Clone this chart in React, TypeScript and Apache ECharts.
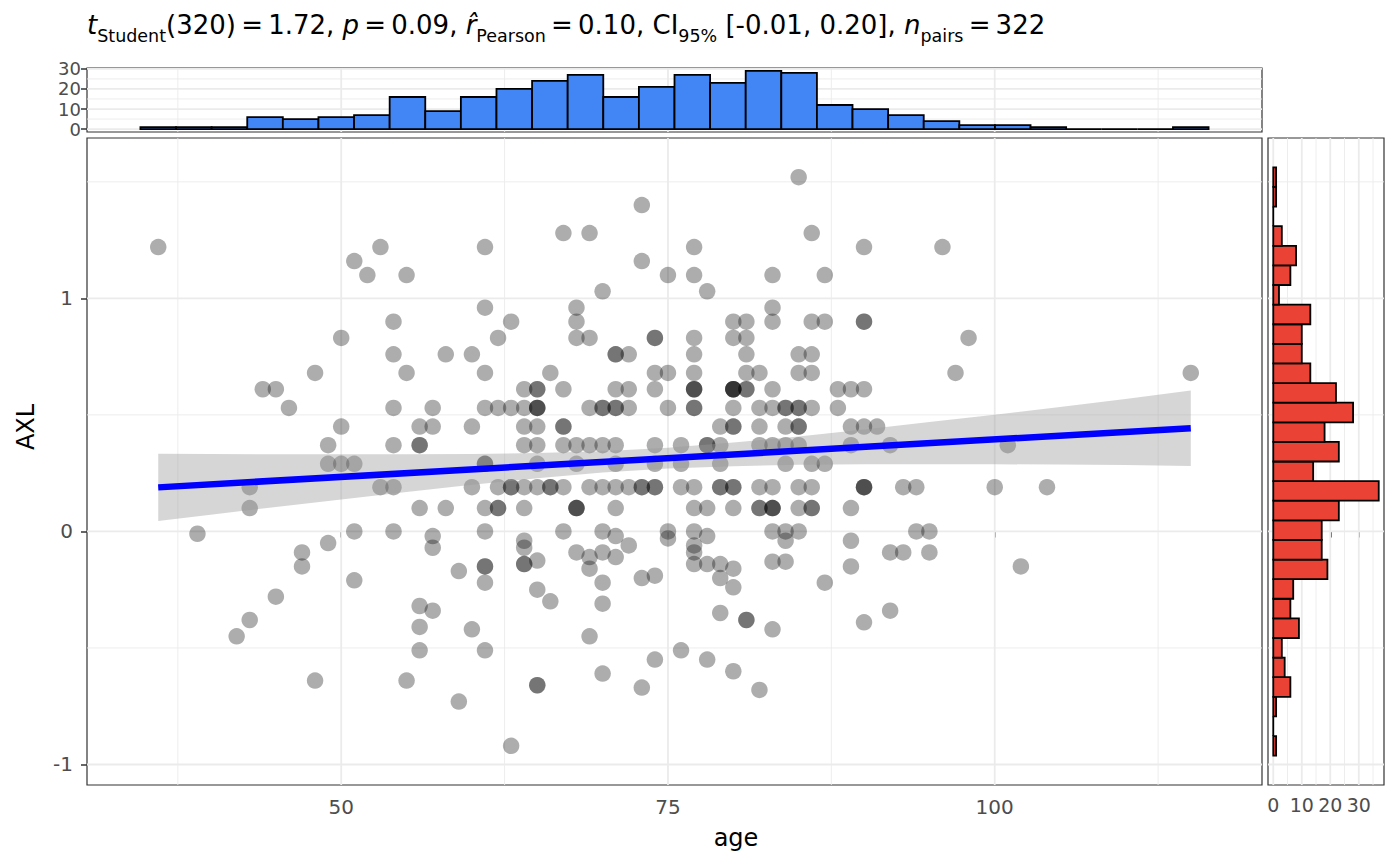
import React, { useEffect, useRef } from "react";
import * as echarts from "echarts";

const FONT = "'DejaVu Sans', 'Noto Sans', sans-serif";

// AXL value of each row of points, and the ages of the points sitting on it
const axlLevels = [
  1.52, 1.4, 1.28, 1.22, 1.16, 1.1, 1.03, 0.96, 0.9, 0.83, 0.76, 0.68, 0.61,
  0.53, 0.45, 0.37, 0.29, 0.19, 0.1, 0.0, -0.01, -0.02, -0.03, -0.04, -0.05,
  -0.06, -0.07, -0.09, -0.11, -0.125, -0.13, -0.14, -0.15, -0.16, -0.17, -0.19,
  -0.2, -0.21, -0.22, -0.24, -0.25, -0.28, -0.3, -0.31, -0.32, -0.34, -0.35,
  -0.38, -0.39, -0.41, -0.42, -0.45, -0.51, -0.55, -0.6, -0.61, -0.64, -0.66,
  -0.67, -0.68, -0.73, -0.92,
];
const agesAtLevel = [
  [85],
  [73],
  [67, 69, 86],
  [36, 53, 61, 77, 90, 96],
  [51, 73],
  [52, 55, 75, 77, 83, 87],
  [70, 78],
  [61, 68, 83],
  [54, 63, 68, 80, 81, 83, 86, 87, 90, 90],
  [50, 62, 68, 69, 74, 74, 77, 80, 81, 98],
  [54, 58, 60, 71, 71, 72, 77, 81, 85, 86],
  [48, 55, 61, 66, 74, 75, 77, 81, 82, 85, 86, 97, 115],
  [44, 45, 64, 65, 65, 67, 71, 72, 74, 77, 77, 77, 80, 80, 80, 80, 81, 81, 83, 88, 89, 90],
  [46, 54, 57, 61, 62, 63, 64, 65, 65, 65, 69, 70, 70, 71, 71, 72, 75, 77, 77, 80, 82, 83, 84, 84, 85, 85, 86, 88],
  [50, 56, 57, 60, 64, 65, 67, 67, 79, 80, 80, 82, 84, 85, 85, 89, 90, 91],
  [49, 54, 56, 56, 64, 65, 67, 68, 69, 70, 71, 74, 76, 78, 78, 79, 82, 83, 84, 85, 89, 92, 101],
  [49, 50, 51, 61, 61, 65, 68, 71, 74, 76, 79, 84, 86, 87],
  [43, 53, 54, 60, 62, 63, 63, 64, 65, 66, 66, 67, 69, 70, 71, 72, 73, 73, 74, 74, 76, 77, 79, 79, 80, 80, 82, 83, 85, 86, 90, 90, 90, 93, 94, 100, 104],
  [43, 56, 58, 61, 62, 62, 64, 68, 68, 68, 71, 77, 78, 80, 82, 82, 83, 83, 83, 85, 86, 86, 89],
  [51, 54, 61, 67, 70, 75, 77, 83, 84, 85, 94, 95],
  [39],
  [57, 71, 78],
  [75],
  [64, 84, 89],
  [49],
  [72, 77],
  [57, 64],
  [47, 68, 70, 77, 92, 93, 95],
  [69, 71],
  [65],
  [83, 84],
  [64, 64, 77, 78, 79],
  [47, 61, 61, 89, 102],
  [69, 80],
  [59],
  [74],
  [73, 79],
  [51],
  [61, 70, 87],
  [80],
  [65],
  [45],
  [66],
  [70],
  [56],
  [57, 92],
  [79],
  [43, 81, 81],
  [90],
  [56],
  [60, 83],
  [42, 69],
  [56, 61, 76],
  [74, 78],
  [80],
  [70],
  [48, 55],
  [65, 65],
  [73],
  [82],
  [59],
  [63],
];

// marginal histograms: 30 bins each, bins centred on the data min ... max
const ageCounts = [1, 1, 1, 6, 5, 6, 7, 16, 9, 16, 20, 24, 27, 16, 21, 27, 23, 29, 28, 12, 10, 7, 4, 2, 2, 1, 0, 0, 0, 1];
const ageSpan = [36, 115];
const axlCounts = [1, 0, 1, 6, 4, 3, 9, 6, 7, 19, 17, 17, 23, 37, 14, 23, 18, 28, 22, 13, 10, 10, 13, 2, 6, 8, 3, 0, 1, 1];
const axlSpan = [-0.92, 1.52];

// linear fit and its 95% band
const fitAge = [36, 115];
const fitAXL = [0.189, 0.443];
const bandAge = [36, 40, 45, 50, 55, 60, 65, 70, 75, 80, 85, 90, 95, 100, 105, 110, 115];
const bandLow = [0.045, 0.071, 0.105, 0.137, 0.169, 0.2, 0.228, 0.253, 0.27, 0.28, 0.286, 0.288, 0.288, 0.288, 0.287, 0.285, 0.281];
const bandHigh = [0.333, 0.332, 0.331, 0.331, 0.331, 0.332, 0.336, 0.344, 0.359, 0.381, 0.407, 0.437, 0.469, 0.501, 0.534, 0.568, 0.605];

// ticks and grid lines
const ageTicks = [50, 75, 100];
const ageMinor = [37.5, 62.5, 87.5, 112.5];
const axlTicks = [-1, 0, 1];
const axlMinor = [-0.5, 0.5, 1.5];
const countTicks = [0, 10, 20, 30];
const topMinor = [5, 15, 25];
const sideMinor = [5, 15, 25, 35];

const X_MIN = 30.55;
const X_MAX = 120.45;
const Y_MIN = -1.088;
const Y_MAX = 1.688;

const MAJOR_W = 1.8;
const MINOR_W = 0.9;

const bins = (counts: number[], span: number[]) => {
  const w = (span[1] - span[0]) / (counts.length - 1);
  return counts.map((c, i) => [span[0] + (i - 0.5) * w, span[0] + (i + 0.5) * w, c]);
};

const gridLines = (
  xi: number,
  vert: number[][],
  horiz: number[][],
  xRef: number,
  yRef: number
) => ({
  type: "custom",
  xAxisIndex: xi,
  yAxisIndex: xi,
  z: 1,
  silent: true,
  data: [...vert.map(([v, w]) => [0, v, w]), ...horiz.map(([v, w]) => [1, v, w])],
  renderItem: (params: any, api: any) => {
    const cs = params.coordSys;
    const o = api.value(0);
    const v = api.value(1);
    const w = api.value(2);
    const style = { stroke: "#EBEBEB", lineWidth: w };
    if (o === 0) {
      const px = api.coord([v, yRef])[0];
      return { type: "line", shape: { x1: px, y1: cs.y, x2: px, y2: cs.y + cs.height }, style };
    }
    const py = api.coord([xRef, v])[1];
    return { type: "line", shape: { x1: cs.x, y1: py, x2: cs.x + cs.width, y2: py }, style };
  },
});

const histSeries = (idx: number, data: number[][], horizontal: boolean, color: string) => ({
  type: "custom",
  xAxisIndex: idx,
  yAxisIndex: idx,
  z: 3,
  silent: true,
  data,
  renderItem: (params: any, api: any) => {
    const lo = api.value(0);
    const hi = api.value(1);
    const n = api.value(2);
    const p0 = horizontal ? api.coord([0, lo]) : api.coord([lo, 0]);
    const p1 = horizontal ? api.coord([n, hi]) : api.coord([hi, n]);
    return {
      type: "rect",
      shape: {
        x: Math.min(p0[0], p1[0]),
        y: Math.min(p0[1], p1[1]),
        width: Math.abs(p1[0] - p0[0]),
        height: Math.abs(p1[1] - p0[1]),
      },
      style: { fill: color, stroke: "#000", lineWidth: 1.8 },
    };
  },
});

const tickStyle = (values: number[], size: number, margin: number) => ({
  axisLine: { show: false },
  splitLine: { show: false },
  axisTick: { show: true, length: 6, lineStyle: { color: "#333333", width: 1.5 }, customValues: values },
  axisLabel: { customValues: values, fontSize: size, color: "#4D4D4D", fontFamily: FONT, margin },
});

const App: React.FC = () => {
  const chartRef = useRef<HTMLDivElement>(null);

  useEffect(() => {
    if (!chartRef.current) return;
    const chart = echarts.init(chartRef.current, undefined, { renderer: "svg" });

    const points = axlLevels.flatMap((lv, i) => agesAtLevel[i].map((a) => [a, lv]));
    const vMain = [...ageTicks.map((v) => [v, MAJOR_W]), ...ageMinor.map((v) => [v, MINOR_W])];
    const hMain = [...axlTicks.map((v) => [v, MAJOR_W]), ...axlMinor.map((v) => [v, MINOR_W])];

    const option = {
      animation: false,
      title: {
        left: 87,
        top: 12,
        padding: 0,
        text:
          "{i|t}{s|Student}(320)\u2009=\u20091.72, {i|p}\u2009=\u20090.09, {i|r\u0302}{s|Pearson}\u2009=\u20090.10, CI{s|95%} [-0.01, 0.20], {i|n}{s|pairs}\u2009=\u2009322",
        textStyle: {
          fontSize: 26,
          fontWeight: "normal",
          color: "#000",
          fontFamily: FONT,
          rich: {
            i: { fontStyle: "italic", fontSize: 26, fontFamily: FONT, color: "#000" },
            s: { fontSize: 17.5, lineHeight: 17.5, padding: [22, 0, 0, 0], fontFamily: FONT, color: "#000" },
          },
        },
      },
      grid: [
        { left: 87, top: 138, width: 1175, height: 647, show: true, borderColor: "#333333", borderWidth: 1.2, backgroundColor: "transparent" },
        { left: 87, top: 68, width: 1175, height: 64, show: true, borderColor: "#333333", borderWidth: 1.2, backgroundColor: "transparent" },
        { left: 1268, top: 138, width: 116, height: 647, show: true, borderColor: "#333333", borderWidth: 1.2, backgroundColor: "transparent" },
      ],
      xAxis: [
        { gridIndex: 0, type: "value", min: X_MIN, max: X_MAX, ...tickStyle(ageTicks, 20, 12) },
        { gridIndex: 1, type: "value", min: X_MIN, max: X_MAX, show: false },
        { gridIndex: 2, type: "value", min: -1.85, max: 38.85, ...tickStyle(countTicks, 19, 10) },
      ],
      yAxis: [
        { gridIndex: 0, type: "value", min: Y_MIN, max: Y_MAX, ...tickStyle(axlTicks, 20, 14) },
        { gridIndex: 1, type: "value", min: -1.45, max: 30.45, ...tickStyle(countTicks, 18, 6) },
        { gridIndex: 2, type: "value", min: Y_MIN, max: Y_MAX, show: false },
      ],
      graphic: [
        {
          type: "text",
          x: 25.5,
          y: 427,
          rotation: Math.PI / 2,
          style: { text: "AXL", fontSize: 24, fontFamily: FONT, fill: "#000", align: "center", verticalAlign: "middle" },
        },
        {
          type: "text",
          x: 736,
          y: 838,
          style: { text: "age", fontSize: 24, fontFamily: FONT, fill: "#000", align: "center", verticalAlign: "middle" },
        },
      ],
      series: [
        gridLines(0, vMain, hMain, 70, 0),
        gridLines(
          1,
          vMain,
          [...countTicks.map((v) => [v, MAJOR_W]), ...topMinor.map((v) => [v, MINOR_W])],
          70,
          10
        ),
        gridLines(
          2,
          [...countTicks.map((v) => [v, MAJOR_W]), ...sideMinor.map((v) => [v, MINOR_W])],
          hMain,
          10,
          0
        ),
        {
          type: "scatter",
          xAxisIndex: 0,
          yAxisIndex: 0,
          z: 3,
          silent: true,
          symbol: "circle",
          symbolSize: 16.5,
          itemStyle: { color: "rgba(0,0,0,0.4)" },
          data: points,
        },
        {
          type: "custom",
          xAxisIndex: 0,
          yAxisIndex: 0,
          z: 4,
          silent: true,
          data: [[bandAge[0], bandLow[0]]],
          renderItem: (params: any, api: any) => {
            const upper = bandAge.map((a, i) => api.coord([a, bandHigh[i]]));
            const lower = bandAge.map((a, i) => api.coord([a, bandLow[i]])).reverse();
            return {
              type: "polygon",
              shape: { points: [...upper, ...lower] },
              style: { fill: "rgba(153,153,153,0.4)" },
            };
          },
        },
        {
          type: "line",
          xAxisIndex: 0,
          yAxisIndex: 0,
          z: 5,
          silent: true,
          symbol: "none",
          lineStyle: { color: "#0000FF", width: 6.5 },
          data: fitAge.map((a, i) => [a, fitAXL[i]]),
        },
        histSeries(1, bins(ageCounts, ageSpan), false, "#4285F4"),
        histSeries(2, bins(axlCounts, axlSpan), true, "#EA4335"),
      ],
    };

    chart.setOption(option as any);

    return () => {
      chart.dispose();
    };
  }, []);

  return (
    <div style={{ position: "absolute", left: 0, top: 0, width: 1400, height: 866, background: "#fff" }}>
      <div ref={chartRef} style={{ width: "100%", height: "100%" }} />
    </div>
  );
};

export default App;
